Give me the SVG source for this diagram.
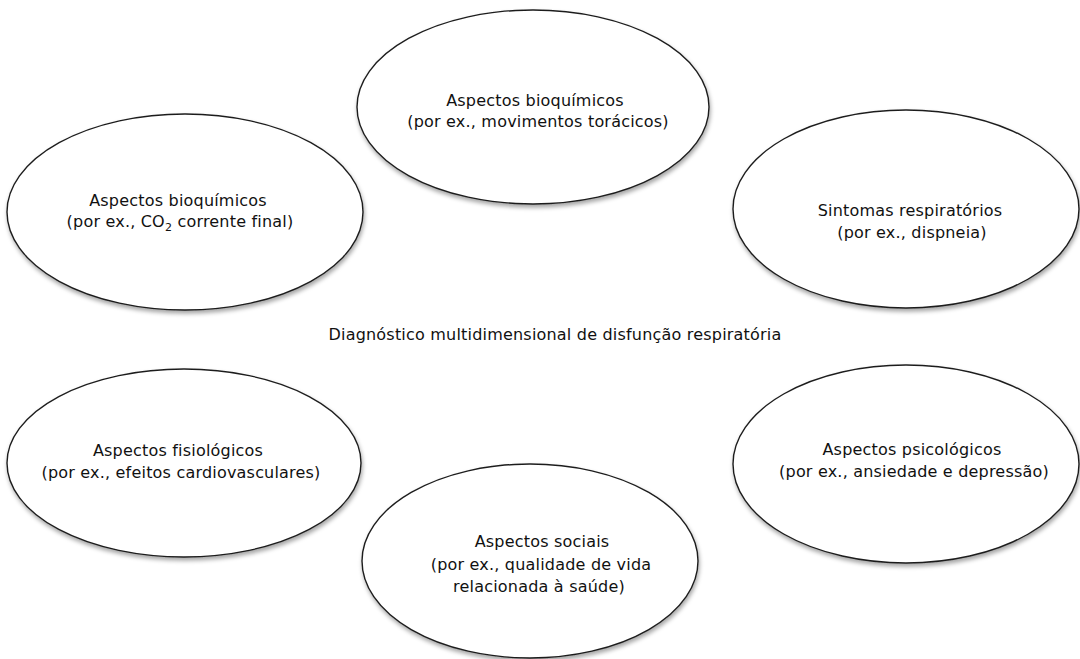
<svg xmlns="http://www.w3.org/2000/svg" width="1080" height="659" viewBox="0 0 1080 659">
  <defs>
    <filter id="shadow" x="-10%" y="-10%" width="120%" height="125%">
      <feDropShadow dx="1" dy="3" stdDeviation="2.2" flood-color="#000" flood-opacity="0.35"/>
    </filter>
  </defs>
  <style>
    .node ellipse { fill: #ffffff; stroke: #1e1e1e; stroke-width: 1.4; filter: url(#shadow); }
    text { font-family: "DejaVu Sans", "Liberation Sans", sans-serif; font-size: 16px; fill: #111; text-anchor: middle; letter-spacing: 0.2px; }
  </style>
  <rect width="1080" height="659" fill="#ffffff"/>
  <g id="connectors"></g>

  <g id="node-bioquimicos-torax" class="node">
    <ellipse cx="533" cy="107" rx="176" ry="97"/>
    <text x="535" y="106">Aspectos bioquímicos</text>
    <text x="538" y="127">(por ex., movimentos torácicos)</text>
  </g>

  <g id="node-bioquimicos-co2" class="node">
    <ellipse cx="185" cy="212" rx="178" ry="98"/>
    <text x="178" y="206">Aspectos bioquímicos</text>
    <text x="180" y="227">(por ex., CO<tspan font-size="11" dy="4">2</tspan><tspan dy="-4"> corrente final)</tspan></text>
  </g>

  <g id="node-sintomas" class="node">
    <ellipse cx="906" cy="209" rx="173" ry="99"/>
    <text x="910" y="216">Sintomas respiratórios</text>
    <text x="912" y="238">(por ex., dispneia)</text>
  </g>

  <g id="node-central">
    <text x="555" y="340">Diagnóstico multidimensional de disfunção respiratória</text>
  </g>

  <g id="node-fisiologicos" class="node">
    <ellipse cx="184" cy="463" rx="177" ry="94"/>
    <text x="178" y="456">Aspectos fisiológicos</text>
    <text x="181" y="478">(por ex., efeitos cardiovasculares)</text>
  </g>

  <g id="node-psicologicos" class="node">
    <ellipse cx="906" cy="464" rx="173" ry="99"/>
    <text x="912" y="455">Aspectos psicológicos</text>
    <text x="914" y="477">(por ex., ansiedade e depressão)</text>
  </g>

  <g id="node-sociais" class="node">
    <ellipse cx="530" cy="561" rx="168" ry="97"/>
    <text x="542" y="547">Aspectos sociais</text>
    <text x="541" y="570">(por ex., qualidade de vida</text>
    <text x="539" y="592">relacionada à saúde)</text>
  </g>
</svg>
